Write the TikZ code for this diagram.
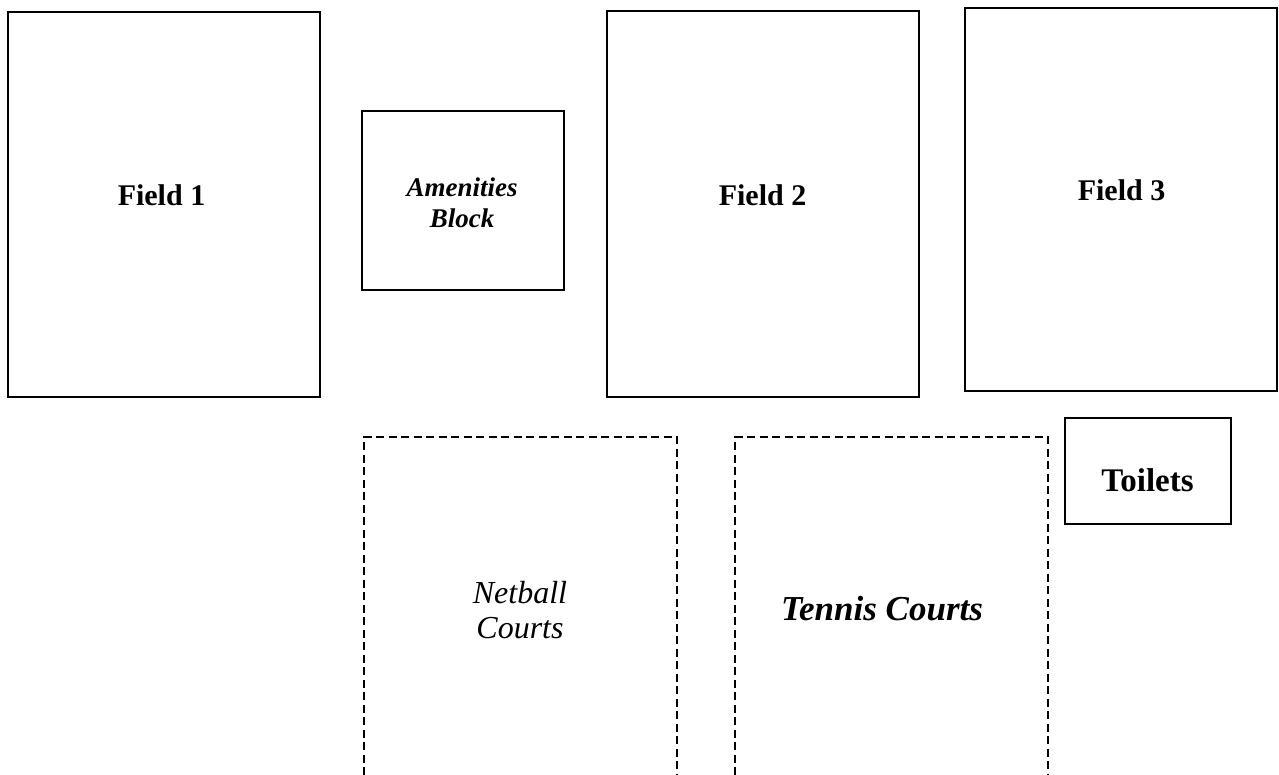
\documentclass[tikz,border=0pt]{standalone}
\usepackage{fontspec}
\setmainfont{Liberation Serif}
\tikzset{
  solidbox/.style={draw=black, line width=2pt, outer sep=0pt, inner sep=0pt},
  dashbox/.style={draw=black, line width=1.3pt, dash pattern=on 8pt off 4.5pt},
  bigbold/.style={font=\fontsize{30}{34}\selectfont\bfseries, anchor=base, inner sep=0pt},
  boldital/.style={font=\fontsize{27}{31}\selectfont\bfseries\itshape, align=center, anchor=base, inner sep=0pt},
  plainital/.style={font=\fontsize{32}{35}\selectfont\itshape, align=center, anchor=base, inner sep=0pt},
  bigboldital/.style={font=\fontsize{35}{38}\selectfont\bfseries\itshape, anchor=base, inner sep=0pt},
}
\begin{document}
\begin{tikzpicture}[x=1pt,y=-1pt]
\useasboundingbox (0,0) rectangle (1279,774);
\clip (0,0) rectangle (1279,774);
% solid boxes
\draw[solidbox] (7.5,11.5) rectangle (319.5,396.5);
\draw[solidbox] (361.5,110.5) rectangle (563.5,290);
\draw[solidbox] (607,11) rectangle (919,396.5);
\draw[solidbox] (965,7.5) rectangle (1276.5,391);
\draw[solidbox] (1065,418) rectangle (1231,524);
% dashed courts (open at the bottom edge)
\draw[dashbox] (364,800) -- (364,437) -- (677,437) -- (677,800);
\draw[dashbox] (735,800) -- (735,437) -- (1048,437) -- (1048,800);
% labels
\node[bigbold] (t1) at (161.5,205) {Field 1};
\node[bigbold] (t2) at (762.5,205) {Field 2};
\node[bigbold] (t3) at (1121.5,200) {Field 3};
\node[boldital] (tam) at (462,227) {Amenities\\Block};
\node[font=\fontsize{33}{36}\selectfont\bfseries, anchor=base, inner sep=0pt] (tto) at (1147.5,491) {Toilets};
\node[plainital] (tnb) at (520,638) {Netball\\Courts};
\node[bigboldital] (ttc) at (882,620) {Tennis Courts};
\end{tikzpicture}
\end{document}
